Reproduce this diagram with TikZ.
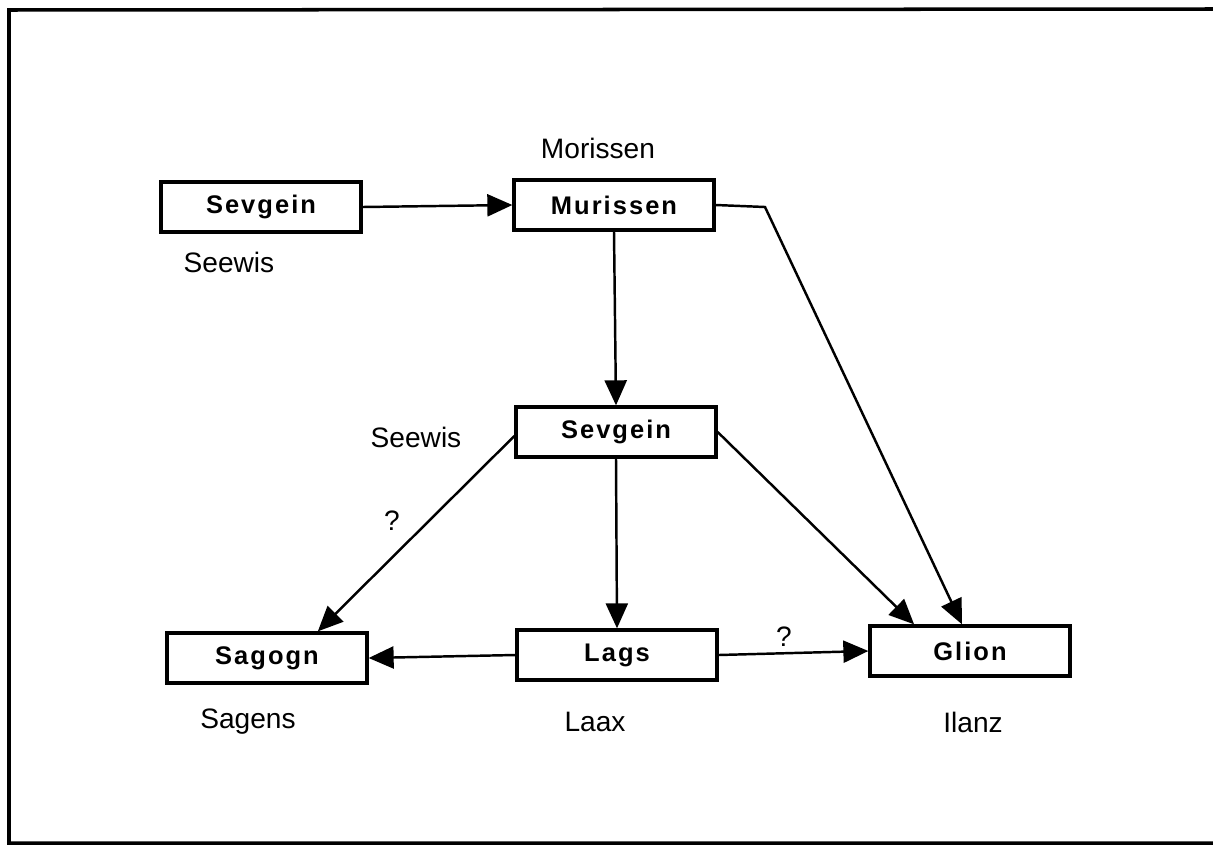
\documentclass[tikz,border=0pt]{standalone}
\usepackage{fontspec}
\setmainfont{Liberation Sans}
\newfontfamily\boxfont[LetterSpace=8]{Liberation Sans Bold}
\usetikzlibrary{arrows.meta,calc}
\begin{document}
\begin{tikzpicture}[x=0.02cm,y=-0.02cm,
  place/.style={draw, line width=1.9pt, minimum width=4cm, minimum height=1cm, inner sep=0pt, font=\boxfont\fontsize{14.5}{16}\selectfont},
  lbl/.style={font=\fontsize{16}{18}\selectfont, inner sep=1pt},
  conn/.style={line width=1.4pt, -{Triangle[length=0.5cm,width=0.44cm]}},
  frame/.style={line width=2pt}]
\useasboundingbox (0,0) rectangle (1213,852);
% frame
\coordinate (f1) at (1213,9);
\coordinate (f2) at (9,10);
\coordinate (f3) at (9,843);
\coordinate (f4) at (1213,843);
\draw[frame] (f1) -- (f2) -- (f3) -- (f4);
% nodes
\node[place] (s1) at (261,207) {Sevgein};
\node[place] (mu) at (614,205) {Murissen};
\node[place] (s2) at (616,432) {Sevgein};
\node[place] (sg) at (267,658) {Sagogn};
\node[place] (lg) at (617,655) {Lags};
\node[place] (gl) at (970,651) {Glion};
% labels
\node[lbl] (l1) at (598,148) {Morissen};
\node[lbl] (l2) at (229,262) {Seewis};
\node[lbl] (l3) at (416,437) {Seewis};
\node[lbl] (l4) at (248,722) {Sagens};
\node[lbl] (l5) at (595,722) {Laax};
\node[lbl] (l6) at (973,722) {Ilanz};
\node[lbl] (q1) at (392,521) {?};
\node[lbl] (q2) at (784,637) {?};
% connectors
\coordinate (bend) at (765,207);
\draw[conn] (s1.east) -- (mu.west);
\draw[conn] (mu.south) -- (s2.north);
\draw[conn] (mu.east) -- (bend) -- ($(gl.north)+(-8,0)$);
\draw[conn] ($(s2.west)+(0,4)$) -- ($(sg.north)!0.5!(sg.north east)$);
\draw[conn] (s2.south) -- (lg.north);
\draw[conn] (s2.east) -- ($(gl.north)!0.55!(gl.north west)$);
\draw[conn] (lg.west) -- (sg.east);
\draw[conn] (lg.east) -- (gl.west);
\end{tikzpicture}
\end{document}
